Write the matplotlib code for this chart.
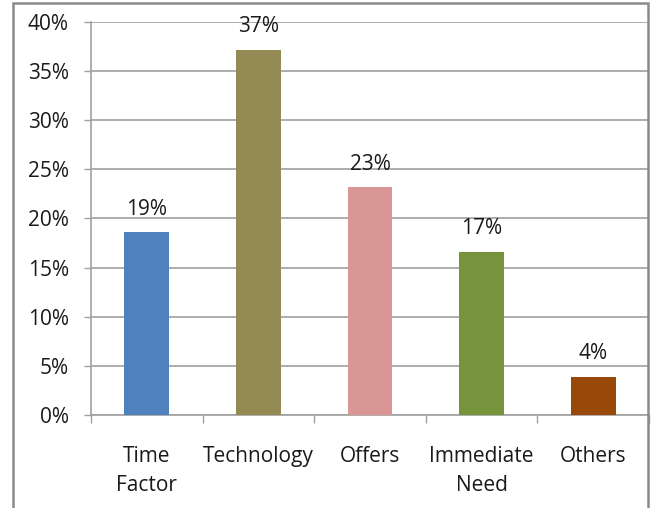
import matplotlib
matplotlib.use("Agg")
import matplotlib.pyplot as plt
from matplotlib.patches import Rectangle

categories = ["Time\nFactor", "Technology", "Offers", "Immediate\nNeed", "Others"]
values = [18.6, 37.2, 23.2, 16.6, 3.9]
colors = ["#4F81BD", "#948A54", "#D99694", "#77933C", "#984807"]
yticks = [0, 5, 10, 15, 20, 25, 30, 35, 40]

W, H = 651, 508
DPI = 100
plt.rcParams["font.family"] = ["Open Sans", "DejaVu Sans"]
FS = 15
TXT = "#1a1a1a"
LINE = "#a0a0a0"

fig = plt.figure(figsize=(W / DPI, H / DPI), dpi=DPI)
fig.patch.set_facecolor("white")

# chart frame
fig.patches.append(Rectangle((13 / W, -0.01), (648 - 13) / W, (H - 3) / H + 0.01,
                             transform=fig.transFigure, fill=False,
                             edgecolor="#8a8a8a", linewidth=1.8))

left, right, top, bottom = 91, 649, 22, 415
ax = fig.add_axes([left / W, (H - bottom) / H, (right - left) / W, (bottom - top) / H])

x = list(range(len(categories)))
ax.bar(x, values, width=0.4, color=colors, zorder=3)
for xi, v in zip(x, values):
    ax.annotate(f"{round(v)}%", (xi, v), xytext=(0, 9), textcoords="offset points",
                ha="center", va="bottom", fontsize=FS, color=TXT,
                annotation_clip=False, zorder=4)

ax.set_xlim(-0.5, len(categories) - 0.5)
ax.set_ylim(0, 40)
ax.set_yticks(yticks)
ax.set_yticklabels([f"{t}%" for t in yticks], fontsize=FS, color=TXT)
ax.yaxis.grid(True, color=LINE, linewidth=1.2, zorder=0)
ax.set_axisbelow(True)

ax.set_xticks(x)
ax.set_xticklabels(categories, fontsize=FS, color=TXT, linespacing=1.55)
ax.set_xticks([i - 0.5 for i in range(len(categories) + 1)], minor=True)
ax.tick_params(axis="x", which="major", length=0, pad=22)
ax.tick_params(axis="x", which="minor", length=6, width=1, color=LINE)
ax.tick_params(axis="y", length=5, width=1, color=LINE, pad=11)

for s in ["top", "right"]:
    ax.spines[s].set_visible(False)
for s in ["left", "bottom"]:
    ax.spines[s].set_color(LINE)
    ax.spines[s].set_linewidth(1.2)

fig.savefig("out.png", dpi=DPI)
